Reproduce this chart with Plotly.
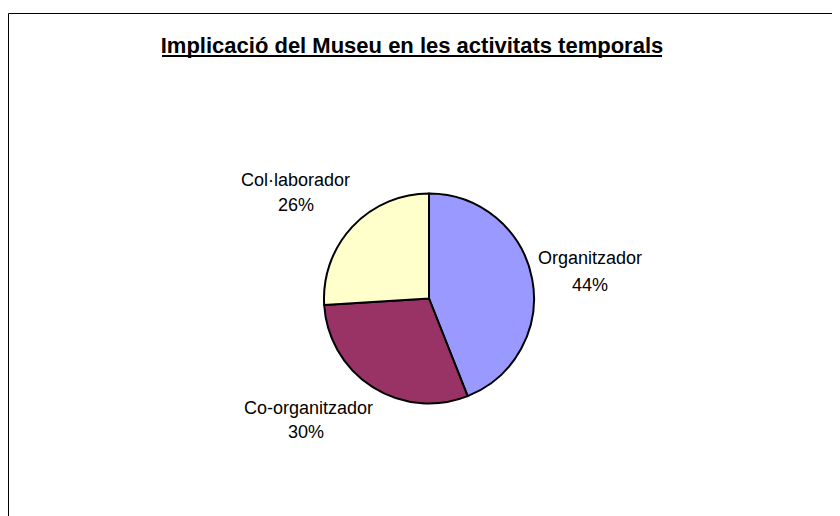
import plotly.graph_objects as go

# ---- data ----
title_text = "Implicació del Museu en les activitats temporals"
categories = ["Organitzador", "Co-organitzador", "Col·laborador"]
values = [44, 30, 26]
colors = ["#9999FF", "#993366", "#FFFFCC"]

# ---- layout helpers (screen pixel -> paper; page body has an 8px margin) ----
W, H = 840, 516
OFF = 8
def px(x):
    return (x - OFF) / W
def py(y):
    return 1 - (y - OFF) / H

FONT = "Liberation Sans, Arial, sans-serif"

fig = go.Figure()
fig.add_trace(go.Pie(
    labels=categories,
    values=values,
    marker=dict(colors=colors, line=dict(color="black", width=2)),
    sort=False,
    direction="clockwise",
    rotation=0,
    textinfo="none",
    hoverinfo="label+percent",
    showlegend=False,
    domain=dict(x=[px(324), px(534)], y=[py(403.5), py(193.5)]),
))

# label positions (line1 centre, line2 centre) in screen pixels
label_pos = [
    ((590, 258), (590, 285)),
    ((308, 408), (306, 432)),
    ((295, 180), (296, 205)),
]
total = sum(values)
annotations = []
for cat, val, (p1, p2) in zip(categories, values, label_pos):
    pct = round(val / total * 100)
    annotations.append(dict(text=cat, x=px(p1[0]), y=py(p1[1]), xref="paper", yref="paper",
                            xanchor="center", yanchor="middle", showarrow=False,
                            font=dict(family=FONT, size=18, color="black")))
    annotations.append(dict(text=f"{pct}%", x=px(p2[0]), y=py(p2[1]), xref="paper", yref="paper",
                            xanchor="center", yanchor="middle", showarrow=False,
                            font=dict(family=FONT, size=18, color="black")))

shapes = [
    # outer frame (right/bottom edges fall outside the picture)
    dict(type="rect", xref="paper", yref="paper", x0=px(8.5), x1=1.2, y0=-0.2, y1=py(13.5),
         line=dict(color="black", width=1), fillcolor="rgba(0,0,0,0)", layer="above"),
    # title underline
    dict(type="line", xref="paper", yref="paper", x0=px(162), x1=px(662), y0=py(56), y1=py(56),
         line=dict(color="black", width=2)),
]

fig.update_layout(
    width=W, height=H,
    margin=dict(l=0, r=0, t=0, b=0),
    paper_bgcolor="white",
    plot_bgcolor="white",
    title=dict(text=f"<b>{title_text}</b>", x=px(412), y=py(45), xanchor="center", yanchor="middle",
               font=dict(family=FONT, size=22, color="black")),
    annotations=annotations,
    shapes=shapes,
)

fig.write_html("out.html")
